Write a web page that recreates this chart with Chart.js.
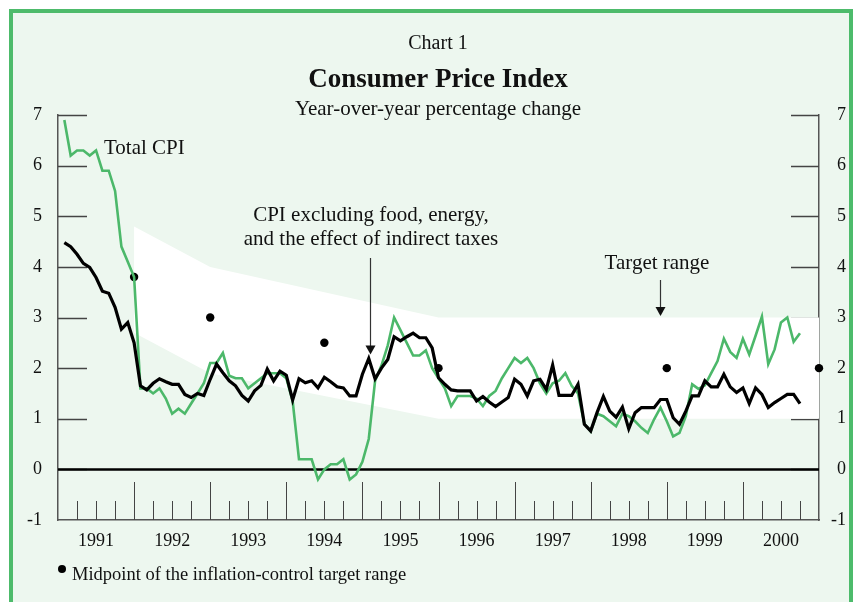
<!DOCTYPE html>
<html>
<head>
<meta charset="utf-8">
<script src="https://cdn.jsdelivr.net/npm/chart.js@4.4.1/dist/chart.umd.min.js"></script>
<style>
  html, body { margin:0; padding:0; background:#ffffff; overflow:hidden; width:853px; height:602px; }
  #frame { position:absolute; left:9px; top:9px; width:836px; height:700px;
           border-left:4px solid #4dbb6b; border-top:4px solid #4dbb6b; border-right:4px solid #4dbb6b;
           background:#edf7ef; }
  #c { position:absolute; left:0; top:0; }
</style>
</head>
<body>
<div id="frame"></div>
<canvas id="c" width="853" height="602"></canvas>
<script>
// ---------- DATA ----------
const yearLabels = ['1991','1992','1993','1994','1995','1996','1997','1998','1999','2000'];
const yTicks = [-1, 0, 1, 2, 3, 4, 5, 6, 7];

// Monthly, Jan 1991 .. Sep 2000 (year-over-year % change)
const totalCPI = [
  6.9, 6.2, 6.3, 6.3, 6.2, 6.3, 5.9, 5.9, 5.5, 4.4, 4.1, 3.8,   // 1991
  1.6, 1.6, 1.5, 1.6, 1.4, 1.1, 1.2, 1.1, 1.3, 1.5, 1.7, 2.1,   // 1992
  2.1, 2.3, 1.85, 1.8, 1.8, 1.6, 1.7, 1.8, 1.9, 1.9, 1.9, 1.8,  // 1993
  1.35, 0.2, 0.2, 0.2, -0.2, 0.0, 0.1, 0.1, 0.2, -0.2, -0.1, 0.15, // 1994
  0.6, 1.75, 2.05, 2.45, 3.0, 2.75, 2.5, 2.25, 2.25, 2.35, 2.0, 1.8, // 1995
  1.6, 1.25, 1.45, 1.45, 1.45, 1.4, 1.25, 1.45, 1.55, 1.8, 2.0, 2.2, // 1996
  2.1, 2.2, 2.0, 1.7, 1.5, 1.7, 1.75, 1.9, 1.65, 1.5, 0.9, 0.75,     // 1997
  1.1, 1.05, 0.95, 0.85, 1.1, 1.05, 0.95, 0.82, 0.72, 0.99, 1.22, 0.95, // 1998
  0.65, 0.72, 1.05, 1.68, 1.59, 1.66, 1.9, 2.14, 2.58, 2.32, 2.2, 2.58, // 1999
  2.27, 2.64, 3.02, 2.08, 2.37, 2.9, 3.0, 2.52, 2.69                   // 2000
];
const coreCPI = [
  4.48, 4.4, 4.25, 4.07, 3.99, 3.79, 3.52, 3.48, 3.2, 2.77, 2.9, 2.5,   // 1991
  1.65, 1.57, 1.7, 1.79, 1.73, 1.68, 1.68, 1.48, 1.42, 1.5, 1.46, 1.78, // 1992
  2.08, 1.91, 1.75, 1.65, 1.46, 1.35, 1.55, 1.66, 1.98, 1.75, 1.94, 1.86, // 1993
  1.37, 1.79, 1.71, 1.75, 1.61, 1.82, 1.73, 1.63, 1.61, 1.45, 1.45, 1.88, // 1994
  2.19, 1.79, 2.0, 2.17, 2.62, 2.54, 2.62, 2.69, 2.6, 2.6, 2.4, 1.81,     // 1995
  1.68, 1.57, 1.55, 1.55, 1.55, 1.35, 1.44, 1.33, 1.24, 1.33, 1.42, 1.78, // 1996
  1.68, 1.45, 1.75, 1.78, 1.58, 2.06, 1.46, 1.46, 1.46, 1.68, 0.89, 0.76, // 1997
  1.12, 1.44, 1.15, 1.03, 1.23, 0.8, 1.12, 1.22, 1.22, 1.22, 1.38, 1.38,  // 1998
  1.02, 0.89, 1.15, 1.45, 1.45, 1.75, 1.63, 1.63, 1.88, 1.63, 1.52, 1.61, // 1999
  1.3, 1.61, 1.48, 1.22, 1.32, 1.4, 1.48, 1.48, 1.3                       // 2000
];

// Midpoints of target range (months since start of 1991)
const targetMonths = [12, 24, 42, 60, 96, 120];
const targetMid    = [3.8, 3.0, 2.5, 2.0, 2.0, 2.0];

// Target range band
const bandMonths = [12, 24, 60, 120];
const bandUpper  = [4.8, 4.0, 3.0, 3.0];
const bandLower  = [2.7, 1.9, 1.0, 1.0];

// ---------- BUILD ----------
const GREEN = '#4cb86a';
const SERIF = '"Liberation Serif", "Times New Roman", serif';
const toXY = (vals) => vals.map((v, i) => ({ x: i + 1, y: v }));
const pairs = (xs, ys) => xs.map((x, i) => ({ x: x, y: ys[i] }));
const yearCenters = yearLabels.map((_, i) => i * 12 + 6);

const decorPlugin = {
  id: 'decor',
  beforeDatasetsDraw(chart) {
    const { ctx, chartArea: a, scales: { x, y } } = chart;
    ctx.save();
    // inner y ticks, left and right
    ctx.strokeStyle = '#444';
    ctx.lineWidth = 1.3;
    yTicks.forEach(v => {
      if (v <= -1) return;
      const py = Math.round(y.getPixelForValue(v)) + 0.5;
      ctx.beginPath();
      ctx.moveTo(a.left, py); ctx.lineTo(a.left + 29, py);
      ctx.moveTo(a.right - 28, py); ctx.lineTo(a.right, py);
      ctx.stroke();
    });
    // x ticks (years long, quarters short)
    ctx.lineWidth = 1;
    for (let m = 3; m < 120; m += 3) {
      const px = Math.round(x.getPixelForValue(m)) + 0.5;
      const len = (m % 12 === 0) ? 38 : 19;
      ctx.beginPath();
      ctx.moveTo(px, a.bottom); ctx.lineTo(px, a.bottom - len);
      ctx.stroke();
    }
    // zero line
    ctx.strokeStyle = '#000';
    ctx.lineWidth = 2.5;
    const zy = y.getPixelForValue(0);
    ctx.beginPath();
    ctx.moveTo(a.left, zy); ctx.lineTo(a.right, zy);
    ctx.stroke();
    ctx.restore();
  },
  afterDraw(chart) {
    const { ctx, scales: { x, y } } = chart;
    ctx.save();
    ctx.fillStyle = '#111';
    ctx.textBaseline = 'middle';
    ctx.textAlign = 'center';
    // Titles
    ctx.font = '20px ' + SERIF;
    ctx.fillText('Chart 1', 438, 44);
    ctx.font = 'bold 27px ' + SERIF;
    ctx.fillText('Consumer Price Index', 438, 80);
    ctx.font = '21px ' + SERIF;
    ctx.fillText('Year-over-year percentage change', 438, 109);
    // Annotations
    ctx.textAlign = 'left';
    ctx.fillText('Total CPI', 104, 148);
    ctx.textAlign = 'center';
    ctx.fillText('CPI excluding food, energy,', 371, 215);
    ctx.fillText('and the effect of indirect taxes', 371, 239);
    ctx.fillText('Target range', 657, 263);
    // Arrows
    const arrow = (px, y0, y1) => {
      ctx.strokeStyle = '#333';
      ctx.lineWidth = 1.2;
      ctx.beginPath();
      ctx.moveTo(px, y0); ctx.lineTo(px, y1 - 8);
      ctx.stroke();
      ctx.fillStyle = '#111';
      ctx.beginPath();
      ctx.moveTo(px - 5, y1 - 9); ctx.lineTo(px + 5, y1 - 9); ctx.lineTo(px, y1);
      ctx.closePath(); ctx.fill();
    };
    arrow(Math.round(x.getPixelForValue(49.2)) + 0.5, 258, y.getPixelForValue(2.27));
    arrow(Math.round(x.getPixelForValue(95)) + 0.5, 280, y.getPixelForValue(3.03));
    // Footer legend
    ctx.fillStyle = '#000';
    ctx.beginPath(); ctx.arc(62, 569, 4, 0, Math.PI * 2); ctx.fill();
    ctx.fillStyle = '#111';
    ctx.textAlign = 'left';
    ctx.font = '18.5px ' + SERIF;
    ctx.fillText('Midpoint of the inflation-control target range', 72, 575);
    ctx.restore();
  }
};

const yCommon = {
  type: 'linear', min: -1, max: 7,
  grid: { display: false, drawTicks: false },
  border: { display: true, color: '#555', width: 1.5 },
  afterBuildTicks: s => { s.ticks = yTicks.map(v => ({ value: v })); },
};

new Chart(document.getElementById('c'), {
  type: 'line',
  data: {
    datasets: [
      { label: 'bandUpper', data: pairs(bandMonths, bandUpper), fill: '+1',
        backgroundColor: '#ffffff', borderWidth: 0, borderColor: 'rgba(0,0,0,0)', pointRadius: 0, order: 10 },
      { label: 'bandLower', data: pairs(bandMonths, bandLower), fill: false,
        borderWidth: 0, borderColor: 'rgba(0,0,0,0)', pointRadius: 0, order: 9 },
      { label: 'Midpoint', type: 'scatter', data: pairs(targetMonths, targetMid),
        pointRadius: 4.2, pointBackgroundColor: '#000', pointBorderWidth: 0, showLine: false, clip: false, order: 5 },
      { label: 'Total CPI', data: toXY(totalCPI), borderColor: GREEN, borderWidth: 2.6,
        pointRadius: 0, tension: 0, fill: false, order: 2, borderJoinStyle: 'miter' },
      { label: 'Core CPI', data: toXY(coreCPI), borderColor: '#000', borderWidth: 3.2,
        pointRadius: 0, tension: 0, fill: false, order: 1, borderJoinStyle: 'miter' }
    ]
  },
  options: {
    responsive: false,
    animation: false,
    events: [],
    layout: { padding: { left: 0, right: 7, top: 115, bottom: 0 } },
    plugins: { legend: { display: false }, tooltip: { enabled: false }, title: { display: false } },
    scales: {
      x: {
        type: 'linear', min: 0, max: 120,
        grid: { display: false, drawTicks: false },
        border: { display: true, color: '#555', width: 1.5 },
        afterBuildTicks: s => { s.ticks = yearCenters.map(v => ({ value: v })); },
        afterFit: s => { s.height = 82; },
        ticks: {
          autoSkip: false, maxRotation: 0, padding: 10, color: '#111',
          font: { family: SERIF, size: 18 },
          callback: (v) => yearLabels[yearCenters.indexOf(v)]
        }
      },
      y: Object.assign({}, yCommon, {
        position: 'left',
        afterFit: s => { s.width = 58; },
        ticks: { padding: 16, color: '#111', font: { family: SERIF, size: 18 } }
      }),
      y2: Object.assign({}, yCommon, {
        position: 'right',
        afterFit: s => { s.width = 27; },
        ticks: { padding: 10, crossAlign: 'far', color: '#111', font: { family: SERIF, size: 18 } }
      })
    }
  },
  plugins: [decorPlugin]
});
</script>
</body>
</html>
